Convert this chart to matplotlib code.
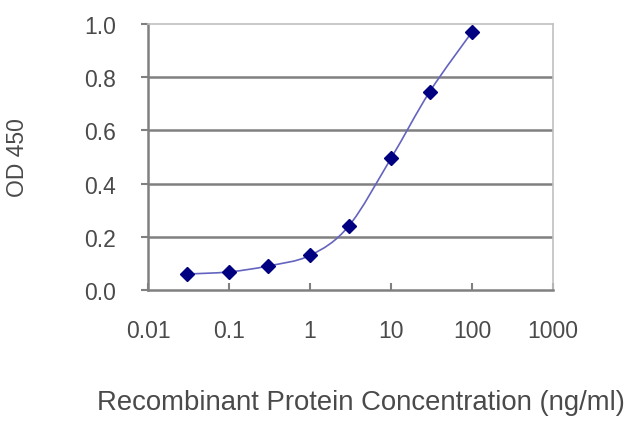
import numpy as np
import matplotlib.pyplot as plt
from matplotlib.path import Path
from matplotlib.patches import PathPatch

plt.rcParams['font.family'] = ['Liberation Sans', 'DejaVu Sans']

conc = [0.03, 0.1, 0.3, 1, 3, 10, 30, 100]
od = [0.06, 0.068, 0.09, 0.13, 0.24, 0.495, 0.745, 0.97]
xticks = [0.01, 0.1, 1, 10, 100, 1000]
xtick_labels = ['0.01', '0.1', '1', '10', '100', '1000']
yticks = [0.0, 0.2, 0.4, 0.6, 0.8, 1.0]

txt = '#4a4a4a'

fig = plt.figure(figsize=(6.4, 4.27), dpi=100)
ax = fig.add_axes([148 / 640, 1 - 291 / 427, 405 / 640, 266 / 427])
ax.set_xscale('log')
ax.set_xlim(0.01, 1000)
ax.set_ylim(0, 1.0)

# gridlines
for y in yticks[1:-1]:
    ax.axhline(y, color='#808080', lw=1.8, zorder=1)

# smoothed curve (Catmull-Rom -> Bezier in log-x space)
lx = np.log10(conc)
yv = np.array(od)
verts = [(conc[0], od[0])]
codes = [Path.MOVETO]
n = len(lx)
for i in range(n - 1):
    p0 = (lx[max(i - 1, 0)], yv[max(i - 1, 0)])
    p1 = (lx[i], yv[i])
    p2 = (lx[i + 1], yv[i + 1])
    p3 = (lx[min(i + 2, n - 1)], yv[min(i + 2, n - 1)])
    c1 = (p1[0] + (p2[0] - p0[0]) / 6, p1[1] + (p2[1] - p0[1]) / 6)
    c2 = (p2[0] - (p3[0] - p1[0]) / 6, p2[1] - (p3[1] - p1[1]) / 6)
    for c in (c1, c2, p2):
        verts.append((10 ** c[0], c[1]))
        codes.append(Path.CURVE4)
ax.add_patch(PathPatch(Path(verts, codes), fill=False, edgecolor='#6464c0', lw=1.2, zorder=2))
ax.plot(conc, od, linestyle='none', marker='D', markersize=7, color='#000080', zorder=3)

for side in ['top', 'right']:
    ax.spines[side].set_color('#c0c0c0')
    ax.spines[side].set_linewidth(1.2)
for side in ['bottom', 'left']:
    ax.spines[side].set_color('#808080')
    ax.spines[side].set_linewidth(1.8)

ax.set_yticks(yticks)
ax.set_yticklabels(['%.1f' % v for v in yticks])
ax.set_xticks(xticks)
ax.set_xticklabels(xtick_labels)
ax.xaxis.set_minor_locator(plt.NullLocator())
ax.tick_params(axis='y', direction='out', length=5, width=1.5, color='#808080',
               labelsize=16.5, labelcolor=txt, pad=18)
ax.tick_params(axis='x', direction='in', length=5, width=1.5, color='#808080',
               labelsize=16.5, labelcolor=txt, pad=21)

ax.set_ylabel('OD 450', fontsize=16.5, color=txt, labelpad=40)
ax.set_xlabel('Recombinant Protein Concentration (ng/ml)', fontsize=19.8, color=txt)
ax.xaxis.set_label_coords(0.526, -0.372)

fig.savefig('out.png', dpi=100)
